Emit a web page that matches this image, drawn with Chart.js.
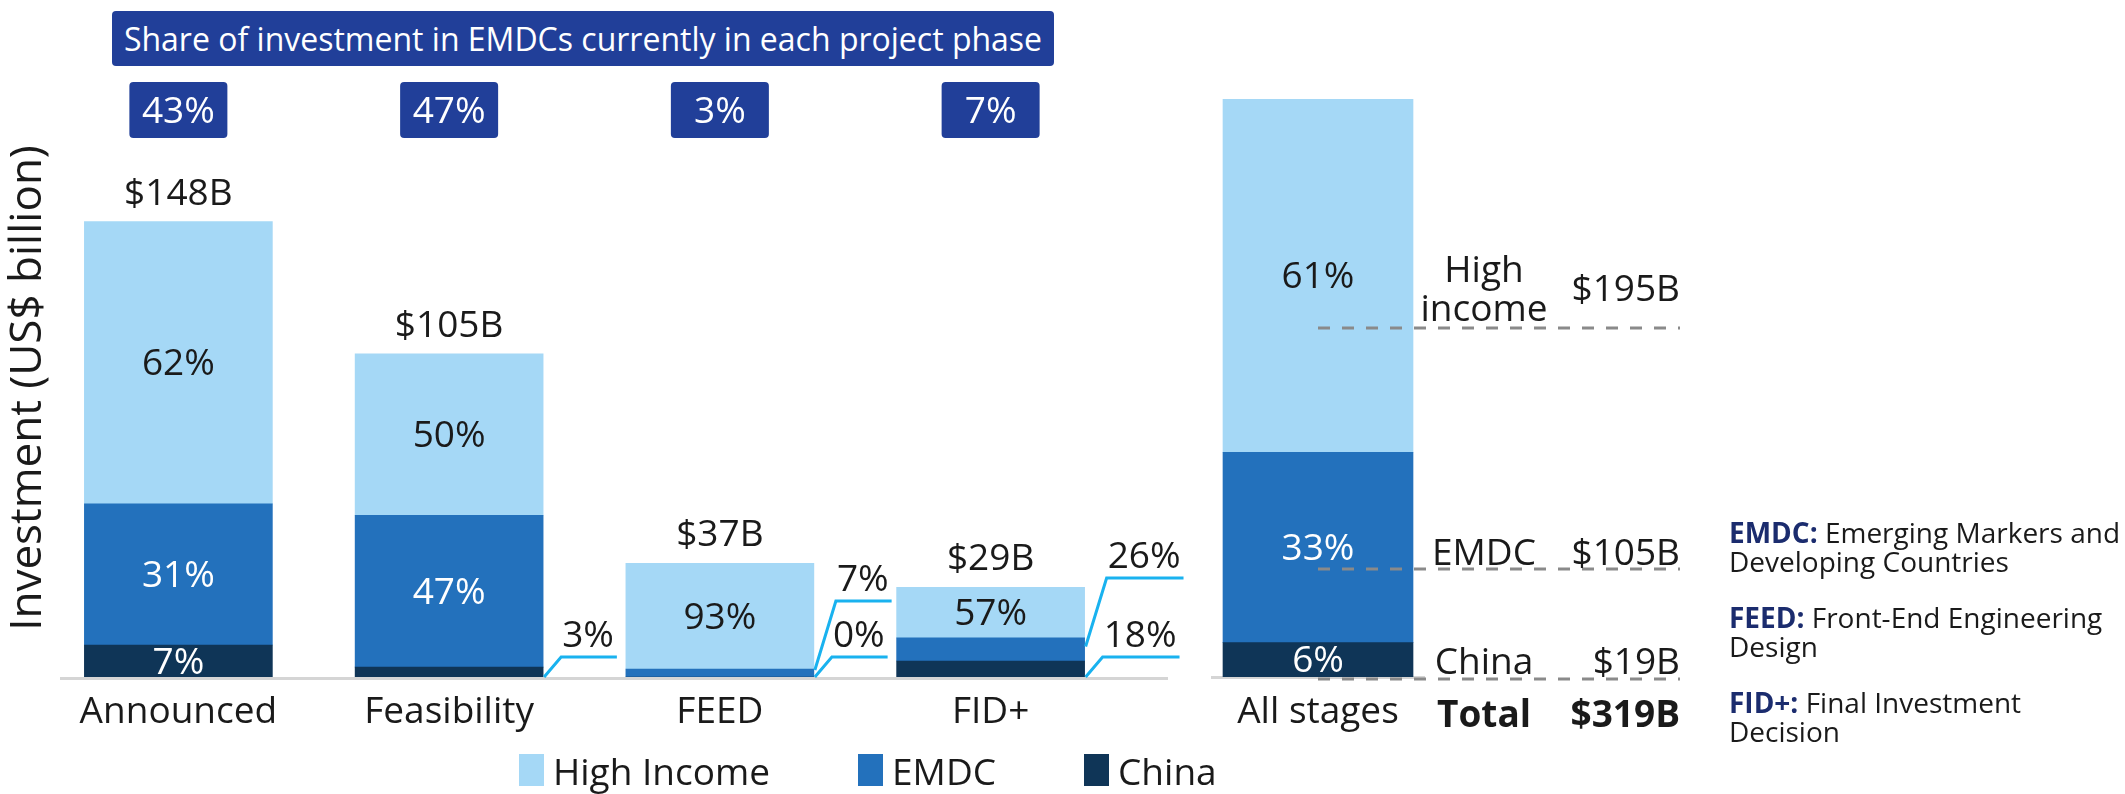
<!DOCTYPE html>
<html><head><meta charset="utf-8">
<script src="https://cdn.jsdelivr.net/npm/chart.js@4.4.1/dist/chart.umd.min.js"></script>
<style>
html,body{margin:0;padding:0;background:#fff;}
body{width:2125px;height:794px;position:relative;overflow:hidden;font-family:'Open Sans',sans-serif;color:#1a1a1a;}
canvas{position:absolute;left:0;top:0;}
#banner{position:absolute;left:112px;top:11px;width:942px;height:55px;background:#213f99;border-radius:4px;color:#fff;font-size:32px;line-height:55px;text-align:center;white-space:nowrap;}
#legend{position:absolute;left:519px;top:750px;height:40px;display:flex;align-items:center;font-size:37px;white-space:nowrap;}
.li{display:flex;align-items:center;margin-right:88px;}
.sw{width:25px;height:32px;margin-right:9px;}
#defs{position:absolute;left:1729px;top:518px;font-size:28px;line-height:29px;white-space:nowrap;color:#1a1a1a;}
#defs p{margin:0 0 27px 0;}
#defs b{color:#1b2c6e;}
</style></head>
<body>
<canvas id="cA" width="2125" height="794"></canvas>
<canvas id="cB" width="2125" height="794"></canvas>
<div id="banner">Share of investment in EMDCs currently in each project phase</div>
<div id="legend"></div>
<div id="defs">
<p><b>EMDC:</b> Emerging Markers and<br>Developing Countries</p>
<p><b>FEED:</b> Front-End Engineering<br>Design</p>
<p><b>FID+:</b> Final Investment<br>Decision</p>
</div>
<script>
// ---- data ----
const stages = ['Announced', 'Feasibility', 'FEED', 'FID+'];
const stageTotals = ['$148B', '$105B', '$37B', '$29B'];
const highIncome = [91.8, 52.5, 34.4, 16.5];
const emdc = [45.9, 49.4, 2.6, 7.5];
const china = [10.4, 3.2, 0, 5.2];
const highIncomePct = ['62%', '50%', '93%', '57%'];
const emdcPct = ['31%', '47%', '7%', '26%'];
const chinaPct = ['7%', '3%', '0%', '18%'];
const emdcShareByPhase = ['43%', '47%', '3%', '7%'];

const allStages = ['All stages'];
const allHigh = [195];
const allEmdc = [105];
const allChina = [19];
const allHighPct = ['61%'];
const allEmdcPct = ['33%'];
const allChinaPct = ['6%'];
const groupNames = [['High', 'income'], ['EMDC'], ['China']];
const groupTotals = ['$195B', '$105B', '$19B'];
const grandTotal = '$319B';

// ---- styles ----
const FONT = "'Open Sans', sans-serif";
const C_HIGH = '#a5d8f6', C_EMDC = '#2371bc', C_CHINA = '#0f3557';
const C_NAVY = '#213f99', C_CYAN = '#19b2ef', C_TEXT = '#1a1a1a', C_AXIS = '#d5d5d5';

function rrect(ctx, x, y, w, h, r) {
  ctx.beginPath();
  ctx.moveTo(x + r, y); ctx.lineTo(x + w - r, y); ctx.quadraticCurveTo(x + w, y, x + w, y + r);
  ctx.lineTo(x + w, y + h - r); ctx.quadraticCurveTo(x + w, y + h, x + w - r, y + h);
  ctx.lineTo(x + r, y + h); ctx.quadraticCurveTo(x, y + h, x, y + h - r);
  ctx.lineTo(x, y + r); ctx.quadraticCurveTo(x, y, x + r, y); ctx.closePath();
}

const pluginA = {
  id: 'annA',
  afterDatasetsDraw(chart) {
    const { ctx, chartArea: ca, scales: { x, y } } = chart;
    const zeroY = y.getPixelForValue(0);
    ctx.save();
    const pctSets = [chinaPct, emdcPct, highIncomePct];
    const txtCol = ['#ffffff', '#ffffff', C_TEXT];
    ctx.font = `37px ${FONT}`;
    ctx.textAlign = 'center';
    ctx.textBaseline = 'middle';
    const callouts = {};
    chart.data.datasets.forEach((ds, d) => {
      const meta = chart.getDatasetMeta(d);
      meta.data.forEach((el, i) => {
        const h = el.base - el.y;
        if (h >= 30) {
          ctx.fillStyle = txtCol[d];
          ctx.fillText(pctSets[d][i], el.x, (el.y + el.base) / 2 + 2);
        } else {
          (callouts[i] = callouts[i] || []).push({ d, el, text: pctSets[d][i] });
        }
      });
    });
    // axis line
    ctx.strokeStyle = C_AXIS; ctx.lineWidth = 3;
    ctx.beginPath(); ctx.moveTo(ca.left + 17, ca.bottom + 1.5); ctx.lineTo(ca.right + 42, ca.bottom + 1.5); ctx.stroke();
    // totals above bars
    ctx.fillStyle = C_TEXT; ctx.textBaseline = 'alphabetic';
    chart.getDatasetMeta(2).data.forEach((el, i) => ctx.fillText(stageTotals[i], el.x, el.y - 17));
    // callouts
    const lift = { 2: 76, 3: 99 };
    ctx.textAlign = 'left';
    Object.keys(callouts).forEach(k => {
      const list = callouts[k];
      const wmax = Math.max(...list.map(c => ctx.measureText(c.text).width));
      list.forEach(c => {
        const el = c.el;
        const right = el.x + el.width / 2;
        let sx, sy, cx, cy;
        if (c.d === 0) { sx = right + 1; sy = zeroY; cx = right + 18; cy = zeroY - 20; }
        else { sx = right + 1; sy = (el.y + el.base) / 2 - 3; cx = right + 22; cy = zeroY - (lift[k] || 60); }
        ctx.strokeStyle = C_CYAN; ctx.lineWidth = 3;
        ctx.beginPath(); ctx.moveTo(sx, sy); ctx.lineTo(cx, cy); ctx.lineTo(cx + wmax + 4, cy); ctx.stroke();
        ctx.fillStyle = C_TEXT;
        ctx.fillText(c.text, cx + 1, cy - 10);
      });
    });
    // EMDC share boxes
    ctx.textAlign = 'center'; ctx.textBaseline = 'middle';
    stages.forEach((s, i) => {
      const cx = x.getPixelForValue(i);
      ctx.fillStyle = C_NAVY; rrect(ctx, cx - 49, 82, 98, 56, 4); ctx.fill();
      ctx.fillStyle = '#ffffff'; ctx.fillText(emdcShareByPhase[i], cx, 112);
    });
    ctx.restore();
  }
};

const pluginB = {
  id: 'annB',
  afterDatasetsDraw(chart) {
    const { ctx, chartArea: ca } = chart;
    ctx.save();
    const pctSets = [allChinaPct, allEmdcPct, allHighPct];
    const txtCol = ['#ffffff', '#ffffff', C_TEXT];
    ctx.font = `37px ${FONT}`;
    ctx.textAlign = 'center'; ctx.textBaseline = 'middle';
    chart.data.datasets.forEach((ds, d) => {
      chart.getDatasetMeta(d).data.forEach((el, i) => {
        ctx.fillStyle = txtCol[d];
        ctx.fillText(pctSets[d][i], el.x, (el.y + el.base) / 2 + 2);
      });
    });
    const bar = chart.getDatasetMeta(0).data[0];
    const xEnd = ca.right + 256, xName = ca.right + 60;
    const rows = [
      { line: ca.top + 229, names: [ca.top + 183, ca.top + 222], total: ca.top + 202, gi: 0 },
      { line: ca.top + 470, names: [ca.top + 466], total: ca.top + 466, gi: 1 },
      { line: ca.bottom + 2, names: [ca.bottom - 3], total: ca.bottom - 3, gi: 2 }
    ];
    ctx.textBaseline = 'alphabetic';
    rows.forEach(r => {
      ctx.strokeStyle = '#8a8a8a'; ctx.lineWidth = 3; ctx.setLineDash([12, 12]);
      ctx.beginPath(); ctx.moveTo(bar.x, r.line); ctx.lineTo(xEnd, r.line); ctx.stroke();
      ctx.setLineDash([]);
      ctx.fillStyle = C_TEXT;
      ctx.textAlign = 'center';
      groupNames[r.gi].forEach((n, j) => ctx.fillText(n, xName, r.names[j]));
      ctx.textAlign = 'right';
      ctx.fillText(groupTotals[r.gi], xEnd, r.total);
    });
    ctx.font = `bold 37px ${FONT}`;
    ctx.textAlign = 'center';
    ctx.fillText('Total', xName, ca.bottom + 50);
    ctx.textAlign = 'right';
    ctx.fillText(grandTotal, xEnd, ca.bottom + 50);
    ctx.restore();
  }
};

const tickFont = { family: FONT, size: 37 };

const chartA = new Chart(document.getElementById('cA'), {
  type: 'bar',
  data: {
    labels: stages,
    datasets: [
      { label: 'China', data: china, backgroundColor: C_CHINA },
      { label: 'EMDC', data: emdc, backgroundColor: C_EMDC },
      { label: 'High Income', data: highIncome, backgroundColor: C_HIGH }
    ]
  },
  options: {
    responsive: false, animation: false, devicePixelRatio: 1,
    layout: { padding: { top: 99, right: 999, left: 0, bottom: 0 } },
    datasets: { bar: { barThickness: 188, borderWidth: 0 } },
    plugins: { legend: { display: false }, tooltip: { enabled: false } },
    scales: {
      x: {
        stacked: true,
        grid: { display: false, drawTicks: false },
        border: { display: false },
        ticks: { font: tickFont, color: C_TEXT, padding: 13, maxRotation: 0, autoSkip: false },
        afterFit(s) { s.height = 117; }
      },
      y: {
        stacked: true, min: 0, max: 188,
        grid: { display: false, drawTicks: false },
        border: { display: false },
        ticks: { display: false },
        title: { display: true, text: 'Investment (US$ billion)', font: { family: FONT, size: 44 }, color: C_TEXT, padding: { top: 2, bottom: 0 } },
        afterFit(s) { s.width = 43; }
      }
    }
  },
  plugins: [pluginA]
});

new Chart(document.getElementById('cB'), {
  type: 'bar',
  data: {
    labels: allStages,
    datasets: [
      { label: 'China', data: allChina, backgroundColor: C_CHINA },
      { label: 'EMDC', data: allEmdc, backgroundColor: C_EMDC },
      { label: 'High Income', data: allHigh, backgroundColor: C_HIGH }
    ]
  },
  options: {
    responsive: false, animation: false, devicePixelRatio: 1,
    layout: { padding: { top: 99, right: 701, left: 1212, bottom: 0 } },
    datasets: { bar: { barThickness: 190, borderWidth: 0 } },
    plugins: { legend: { display: false }, tooltip: { enabled: false } },
    scales: {
      x: {
        stacked: true,
        grid: { display: false, drawTicks: false },
        border: { display: true, color: C_AXIS, width: 3 },
        ticks: { font: tickFont, color: C_TEXT, padding: 13, maxRotation: 0 },
        afterFit(s) { s.height = 117; }
      },
      y: { display: false, stacked: true, min: 0, max: 319 }
    }
  },
  plugins: [pluginB]
});

// HTML legend from chart A datasets (top of stack first)
const leg = document.getElementById('legend');
chartA.data.datasets.slice().reverse().forEach(ds => {
  const it = document.createElement('div'); it.className = 'li';
  const sw = document.createElement('span'); sw.className = 'sw'; sw.style.background = ds.backgroundColor;
  const tx = document.createElement('span'); tx.textContent = ds.label;
  it.appendChild(sw); it.appendChild(tx); leg.appendChild(it);
});
</script>
</body></html>
